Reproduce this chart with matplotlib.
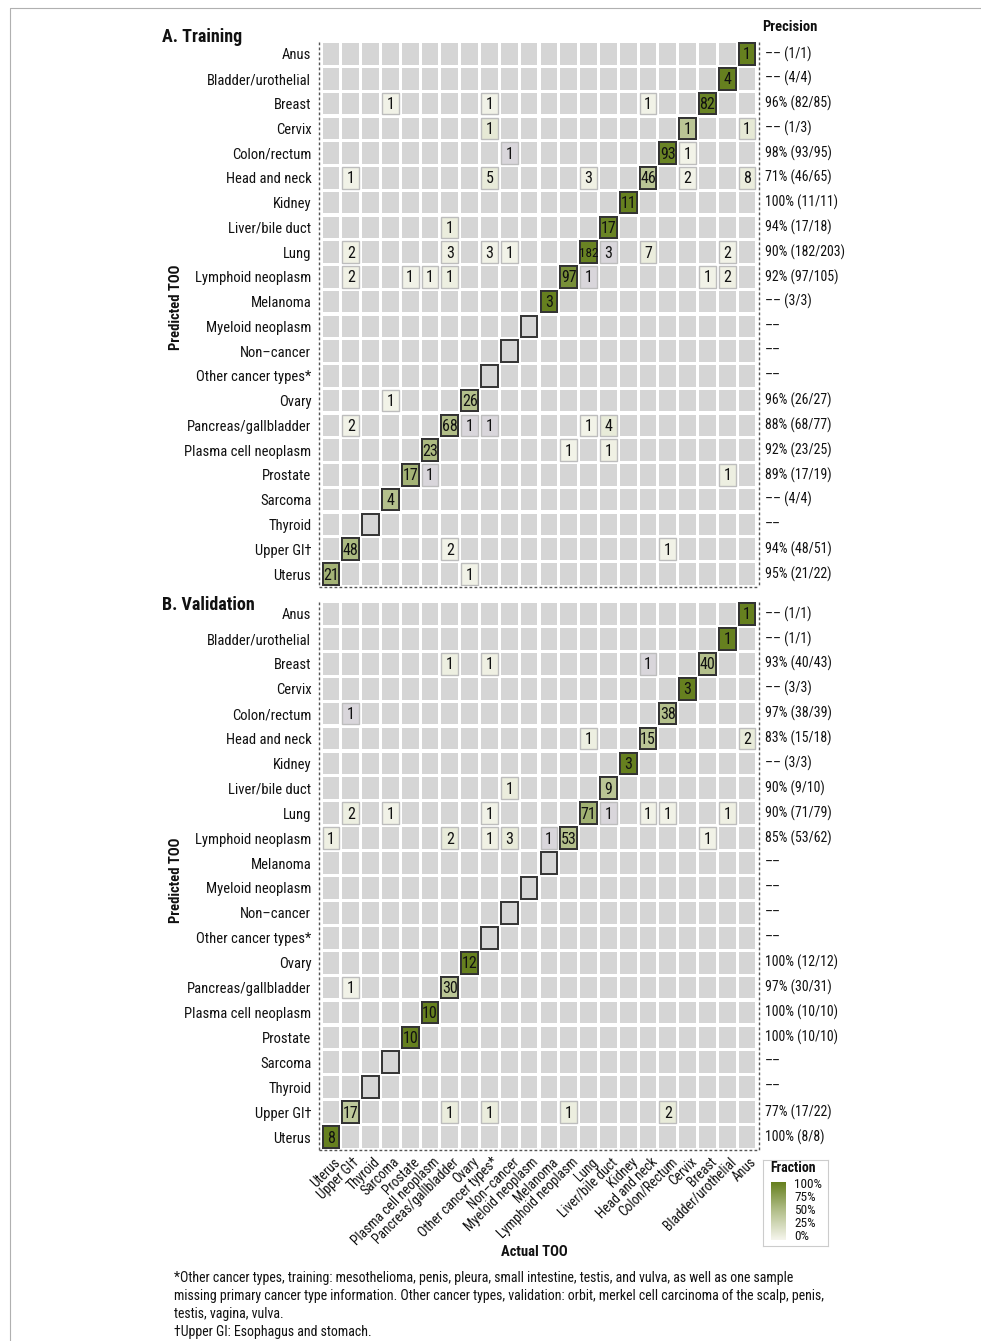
import matplotlib.pyplot as plt
from matplotlib import font_manager
from matplotlib.patches import Rectangle
from matplotlib.colors import LinearSegmentedColormap
import numpy as np


def pick_font(names):
    for nm in names:
        try:
            font_manager.findfont(font_manager.FontProperties(family=nm),
                                  fallback_to_default=False)
            return nm
        except Exception:
            pass
    return "DejaVu Sans"


FONT = pick_font(["Liberation Sans Narrow", "Roboto Condensed", "Open Sans Condensed",
                  "DejaVu Sans Condensed", "Liberation Sans"])
NARROW = FONT != "Liberation Sans"
plt.rcParams["font.family"] = [FONT, "DejaVu Sans"]

W, H = 981, 1341

# predicted TOO, top to bottom
rows = ["Anus", "Bladder/urothelial", "Breast", "Cervix", "Colon/rectum", "Head and neck",
        "Kidney", "Liver/bile duct", "Lung", "Lymphoid neoplasm", "Melanoma",
        "Myeloid neoplasm", "Non\u2013cancer", "Other cancer types*", "Ovary",
        "Pancreas/gallbladder", "Plasma cell neoplasm", "Prostate", "Sarcoma", "Thyroid",
        "Upper GI\u2020", "Uterus"]
# actual TOO, left to right
cols = ["Uterus", "Upper GI\u2020", "Thyroid", "Sarcoma", "Prostate",
        "Plasma cell neoplasm", "Pancreas/gallbladder", "Ovary", "Other cancer types*",
        "Non\u2013cancer", "Myeloid neoplasm", "Melanoma", "Lymphoid neoplasm", "Lung",
        "Liver/bile duct", "Kidney", "Head and neck", "Colon/Rectum", "Cervix", "Breast",
        "Bladder/urothelial", "Anus"]
keys = ["Anus", "Bladder", "Breast", "Cervix", "Colon", "HN", "Kidney", "Liver", "Lung",
        "Lymphoid", "Melanoma", "Myeloid", "NonCancer", "Other", "Ovary", "Pancreas",
        "Plasma", "Prostate", "Sarcoma", "Thyroid", "UpperGI", "Uterus"]

# (predicted, actual, count, fraction) ; fraction None = grey cell
train_cells = [
    ("Anus", "Anus", 1, 1.0), ("Bladder", "Bladder", 4, 1.0),
    ("Breast", "Sarcoma", 1, 0.03), ("Breast", "Other", 1, 0.03), ("Breast", "HN", 1, 0.03),
    ("Breast", "Breast", 82, 0.97),
    ("Cervix", "Other", 1, 0.12), ("Cervix", "Cervix", 1, 0.45), ("Cervix", "Anus", 1, 0.12),
    ("Colon", "NonCancer", 1, None), ("Colon", "Colon", 93, 0.97), ("Colon", "Cervix", 1, 0.02),
    ("HN", "UpperGI", 1, 0.03), ("HN", "Other", 5, 0.1), ("HN", "Lung", 3, 0.04),
    ("HN", "HN", 46, 0.45), ("HN", "Cervix", 2, 0.03), ("HN", "Anus", 8, 0.08),
    ("Kidney", "Kidney", 11, 1.0),
    ("Liver", "Pancreas", 1, 0.08), ("Liver", "Liver", 17, 0.97),
    ("Lung", "UpperGI", 2, 0.04), ("Lung", "Pancreas", 3, 0.05), ("Lung", "Other", 3, 0.03),
    ("Lung", "NonCancer", 1, 0.02), ("Lung", "Lung", 182, 0.98), ("Lung", "Liver", 3, None),
    ("Lung", "HN", 7, 0.08), ("Lung", "Bladder", 2, 0.03),
    ("Lymphoid", "UpperGI", 2, 0.04), ("Lymphoid", "Prostate", 1, 0.03),
    ("Lymphoid", "Plasma", 1, 0.03), ("Lymphoid", "Pancreas", 1, 0.06),
    ("Lymphoid", "Lymphoid", 97, 0.88), ("Lymphoid", "Lung", 1, None),
    ("Lymphoid", "Breast", 1, 0.03), ("Lymphoid", "Bladder", 2, 0.05),
    ("Melanoma", "Melanoma", 3, 1.0),
    ("Ovary", "Sarcoma", 1, 0.02), ("Ovary", "Ovary", 26, 0.5),
    ("Pancreas", "UpperGI", 2, 0.03), ("Pancreas", "Pancreas", 68, 0.52),
    ("Pancreas", "Ovary", 1, None), ("Pancreas", "Other", 1, None),
    ("Pancreas", "Lung", 1, 0.02), ("Pancreas", "Liver", 4, 0.1),
    ("Plasma", "Plasma", 23, 0.55), ("Plasma", "Lymphoid", 1, 0.02), ("Plasma", "Liver", 1, 0.04),
    ("Prostate", "Prostate", 17, 0.6), ("Prostate", "Plasma", 1, None),
    ("Prostate", "Bladder", 1, 0.06),
    ("Sarcoma", "Sarcoma", 4, 0.5),
    ("UpperGI", "UpperGI", 48, 0.55), ("UpperGI", "Pancreas", 2, 0.03),
    ("UpperGI", "Colon", 1, 0.03),
    ("Uterus", "Uterus", 21, 0.6), ("Uterus", "Ovary", 1, 0.03),
]
valid_cells = [
    ("Anus", "Anus", 1, 1.0), ("Bladder", "Bladder", 1, 1.0),
    ("Breast", "Pancreas", 1, 0.06), ("Breast", "Other", 1, 0.05), ("Breast", "HN", 1, None),
    ("Breast", "Breast", 40, 0.5),
    ("Cervix", "Cervix", 3, 1.0),
    ("Colon", "UpperGI", 1, None), ("Colon", "Colon", 38, 0.5),
    ("HN", "Lung", 1, 0.06), ("HN", "HN", 15, 0.45), ("HN", "Anus", 2, 0.1),
    ("Kidney", "Kidney", 3, 1.0),
    ("Liver", "NonCancer", 1, 0.08), ("Liver", "Liver", 9, 0.45),
    ("Lung", "UpperGI", 2, 0.06), ("Lung", "Sarcoma", 1, 0.03), ("Lung", "Other", 1, 0.03),
    ("Lung", "Lung", 71, 0.62), ("Lung", "Liver", 1, None), ("Lung", "HN", 1, 0.03),
    ("Lung", "Colon", 1, 0.03), ("Lung", "Bladder", 1, 0.05),
    ("Lymphoid", "Uterus", 1, 0.05), ("Lymphoid", "Pancreas", 2, 0.1),
    ("Lymphoid", "Other", 1, 0.04), ("Lymphoid", "NonCancer", 3, 0.1),
    ("Lymphoid", "Melanoma", 1, None), ("Lymphoid", "Lymphoid", 53, 0.5),
    ("Lymphoid", "Breast", 1, 0.03),
    ("Ovary", "Ovary", 12, 1.0),
    ("Pancreas", "UpperGI", 1, 0.03), ("Pancreas", "Pancreas", 30, 0.45),
    ("Plasma", "Plasma", 10, 1.0), ("Prostate", "Prostate", 10, 1.0),
    ("UpperGI", "UpperGI", 17, 0.42), ("UpperGI", "Pancreas", 1, 0.08),
    ("UpperGI", "Other", 1, 0.08), ("UpperGI", "Lymphoid", 1, 0.07),
    ("UpperGI", "Colon", 2, 0.1),
    ("Uterus", "Uterus", 8, 1.0),
]
train_prec = ["\u2013\u2013 (1/1)", "\u2013\u2013 (4/4)", "96% (82/85)", "\u2013\u2013 (1/3)",
              "98% (93/95)", "71% (46/65)", "100% (11/11)", "94% (17/18)", "90% (182/203)",
              "92% (97/105)", "\u2013\u2013 (3/3)", "\u2013\u2013", "\u2013\u2013", "\u2013\u2013",
              "96% (26/27)", "88% (68/77)", "92% (23/25)", "89% (17/19)", "\u2013\u2013 (4/4)",
              "\u2013\u2013", "94% (48/51)", "95% (21/22)"]
valid_prec = ["\u2013\u2013 (1/1)", "\u2013\u2013 (1/1)", "93% (40/43)", "\u2013\u2013 (3/3)",
              "97% (38/39)", "83% (15/18)", "\u2013\u2013 (3/3)", "90% (9/10)", "90% (71/79)",
              "85% (53/62)", "\u2013\u2013", "\u2013\u2013", "\u2013\u2013", "\u2013\u2013",
              "100% (12/12)", "97% (30/31)", "100% (10/10)", "100% (10/10)", "\u2013\u2013",
              "\u2013\u2013", "77% (17/22)", "100% (8/8)"]
frac_ticks = ["100%", "75%", "50%", "25%", "0%"]

cmap = LinearSegmentedColormap.from_list("frac", ["#f5f5ec", "#b4c08c", "#66801f"])
grey_cell = "#d5d5d5"
grey_hit = "#d9d6db"
ink = "#111111"

# font sizes (narrower font -> larger size)
fs_row = 10.5 if NARROW else 9.6
fs_col = 9.8 if NARROW else 8.6
fs_num = 11.5 if NARROW else 9.6
fs_prec = 10 if NARROW else 9.2
fs_note = 10 if NARROW else 9.0


def fbox(x0, y0, x1, y1):
    return [x0 / W, 1 - y1 / H, (x1 - x0) / W, (y1 - y0) / H]


def draw_panel(ax, cells, prec, xlabels):
    n = len(rows)
    gx, gy = 0.08, 0.065
    for r in range(n):
        for c in range(n):
            ax.add_patch(Rectangle((c - 0.5 + gx, r - 0.5 + gy), 1 - 2 * gx, 1 - 2 * gy,
                                   facecolor=grey_cell, edgecolor="none"))
    for i in range(n):
        # diagonal outline
        ax.add_patch(Rectangle((n - 1 - i - 0.5 + gx, i - 0.5 + gy), 1 - 2 * gx, 1 - 2 * gy,
                               facecolor="none", edgecolor="#333333", lw=1.4, zorder=3))
    for pred, act, cnt, fr in cells:
        r = keys.index(pred)
        c = n - 1 - keys.index(act)
        diag = pred == act
        fc = grey_hit if fr is None else cmap(fr)
        ec = "#333333" if diag else "#bdbdbd"
        ax.add_patch(Rectangle((c - 0.5 + gx, r - 0.5 + gy), 1 - 2 * gx, 1 - 2 * gy,
                               facecolor=fc, edgecolor=ec, lw=1.4 if diag else 1.0,
                               zorder=4 if diag else 2))
        fs = fs_num - 2 if cnt >= 100 else fs_num
        ax.text(c, r + 0.04, str(cnt), ha="center", va="center", fontsize=fs,
                color=ink, zorder=5)
    for i, p in enumerate(prec):
        ax.text(n - 0.5 + 0.42, i, p, ha="left", va="center", fontsize=fs_prec,
                color=ink, clip_on=False)
    ls = (0, (2, 1.6))
    kw = dict(color="#555555", lw=1.0, linestyle=ls, clip_on=False)
    ax.plot([-0.6, -0.6], [-0.5, n - 0.5 + 0.02], **kw)
    ax.plot([n - 0.4, n - 0.4], [-0.5, n - 0.5 + 0.02], **kw)
    ax.plot([-0.6, n - 0.4], [n - 0.5 + 0.02, n - 0.5 + 0.02], **kw)
    ax.set_xlim(-0.5, n - 0.5)
    ax.set_ylim(n - 0.5, -0.5)
    ax.set_yticks(range(n))
    ax.set_yticklabels(rows, fontsize=fs_row, color=ink)
    if xlabels:
        ax.set_xticks([c + 0.1 for c in range(n)])
        ax.set_xticklabels(cols, rotation=45, ha="right", rotation_mode="anchor",
                           fontsize=fs_col, color=ink)
    else:
        ax.set_xticks([])
    ax.tick_params(axis="y", length=0, pad=7)
    ax.tick_params(axis="x", length=0, pad=4)
    for s in ax.spines.values():
        s.set_visible(False)


fig = plt.figure(figsize=(W / 100, H / 100), dpi=100)

ax1 = fig.add_axes(fbox(321, 41.6, 757, 586.4))
draw_panel(ax1, train_cells, train_prec, False)
ax2 = fig.add_axes(fbox(321, 601.5, 757, 1149.5))
draw_panel(ax2, valid_cells, valid_prec, True)

fig.text(162 / W, 1 - 37 / H, "A. Training", fontsize=13, fontweight="bold",
         ha="left", va="center", color=ink)
fig.text(162 / W, 1 - 605 / H, "B. Validation", fontsize=13, fontweight="bold",
         ha="left", va="center", color=ink)
fig.text(762 / W, 1 - 27 / H, "Precision", fontsize=10.5, fontweight="bold",
         ha="left", va="center", color=ink)
for yc in (307, 880):
    fig.text(176 / W, 1 - yc / H, "Predicted TOO", fontsize=10.5, fontweight="bold",
             rotation=90, ha="center", va="center", color=ink)
fig.text(534 / W, 1 - 1252 / H, "Actual TOO", fontsize=10.5, fontweight="bold",
         ha="center", va="center", color=ink)

# fraction legend
box = fig.add_axes(fbox(763, 1160, 828, 1246))
box.set_xticks([])
box.set_yticks([])
for s in box.spines.values():
    s.set_edgecolor("#cccccc")
    s.set_linewidth(0.8)
fig.text(770 / W, 1 - 1168 / H, "Fraction", fontsize=10, fontweight="bold",
         ha="left", va="center", color=ink)
cax = fig.add_axes(fbox(771, 1182, 786, 1240))
grad = np.linspace(1, 0, 100).reshape(-1, 1)
cax.imshow(grad, cmap=cmap, aspect="auto", vmin=0, vmax=1)
cax.set_xticks([])
cax.set_yticks([])
for s in cax.spines.values():
    s.set_visible(False)
for k, t in enumerate(frac_ticks):
    fig.text(794 / W, 1 - (1184 + k * 13.2) / H, t, fontsize=9.5, ha="left",
             va="center", color=ink)

notes = ["*Other cancer types, training: mesothelioma, penis, pleura, small intestine, testis, and vulva, as well as one sample",
         "missing primary cancer type information. Other cancer types, validation: orbit, merkel cell carcinoma of the scalp, penis,",
         "testis, vagina, vulva.",
         "\u2020Upper GI: Esophagus and stomach."]
for k, t in enumerate(notes):
    fig.text(174 / W, 1 - (1278 + k * 18) / H, t, fontsize=fs_note, ha="left", va="center",
             color=ink)

# thin frame
fig.add_artist(plt.Line2D([10 / W, 10 / W, 1], [0, 1 - 8 / H, 1 - 8 / H],
                          transform=fig.transFigure, color="#b0b0b0", lw=0.8))

fig.savefig("out.png", dpi=100)
